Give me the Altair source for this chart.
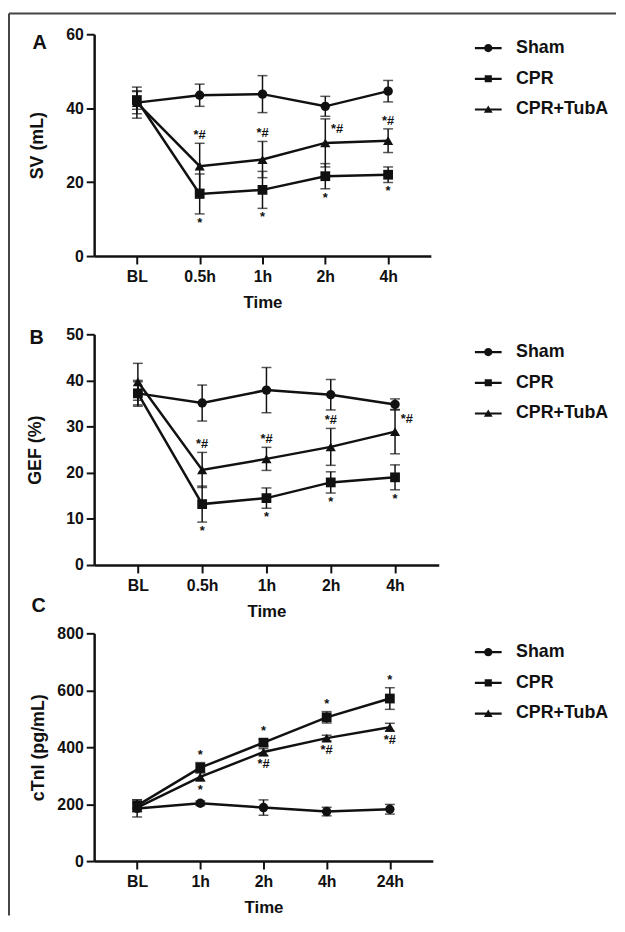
import altair as alt
import pandas as pd

SERIES = ["Sham", "CPR", "CPR+TubA"]
TIMES_AB = ["BL", "0.5h", "1h", "2h", "4h"]
TIMES_C = ["BL", "1h", "2h", "4h", "24h"]

# Panel A: SV (mL)
SV_SHAM = [41.5, 43.5, 43.8, 40.5, 44.6]
SV_SHAM_SD = [4.2, 3.0, 5.0, 2.7, 2.9]
SV_CPR = [42.2, 16.8, 17.9, 21.6, 22.0]
SV_CPR_SD = [2.5, 5.4, 5.0, 3.4, 2.1]
SV_TUBA = [41.5, 24.3, 26.1, 30.6, 31.2]
SV_TUBA_SD = [3.0, 6.2, 4.9, 6.5, 3.2]
SV_MARKS = [
    ("0.5h", "CPR+TubA", "above", "*#"), ("1h", "CPR+TubA", "above", "*#"),
    ("2h", "CPR+TubA", "right", "*#"), ("4h", "CPR+TubA", "above", "*#"),
    ("0.5h", "CPR", "below", "*"), ("1h", "CPR", "below", "*"),
    ("2h", "CPR", "below", "*"), ("4h", "CPR", "below", "*"),
]

# Panel B: GEF (%)
GEF_SHAM = [37.2, 35.1, 37.9, 36.9, 34.8]
GEF_SHAM_SD = [2.8, 3.9, 4.9, 3.3, 1.2]
GEF_CPR = [37.2, 13.2, 14.5, 17.9, 19.0]
GEF_CPR_SD = [2.5, 3.9, 2.2, 2.3, 2.7]
GEF_TUBA = [39.7, 20.6, 23.0, 25.6, 28.9]
GEF_TUBA_SD = [4.0, 3.8, 2.5, 4.0, 4.8]
GEF_MARKS = [
    ("0.5h", "CPR+TubA", "above", "*#"), ("1h", "CPR+TubA", "above", "*#"),
    ("2h", "CPR+TubA", "above", "*#"), ("4h", "CPR+TubA", "right", "*#"),
    ("0.5h", "CPR", "below", "*"), ("1h", "CPR", "below", "*"),
    ("2h", "CPR", "below", "*"), ("4h", "CPR", "below", "*"),
]

# Panel C: cTnI (pg/mL)
CTNI_SHAM = [185, 203, 188, 174, 182]
CTNI_SHAM_SD = [30, 8, 27, 15, 17]
CTNI_CPR = [195, 328, 416, 505, 571]
CTNI_CPR_SD = [20, 18, 12, 20, 38]
CTNI_TUBA = [188, 296, 383, 432, 470]
CTNI_TUBA_SD = [15, 15, 12, 10, 14]
CTNI_MARKS = [
    ("1h", "CPR", "above", "*"), ("2h", "CPR", "above", "*"),
    ("4h", "CPR", "above", "*"), ("24h", "CPR", "above", "*"),
    ("1h", "CPR+TubA", "below", "*"), ("2h", "CPR+TubA", "below", "*#"),
    ("4h", "CPR+TubA", "below", "*#"), ("24h", "CPR+TubA", "below", "*#"),
]

FONT = "Liberation Sans"
INK = "#111111"

# legend symbols: short line (filled bar) with the marker on it, all clockwise
BAR = "M-1.35,-0.11L1.35,-0.11L1.35,0.11L-1.35,0.11Z"
LEG_PATHS = [
    BAR + "M-0.42,0A0.42,0.42,0,1,1,0.42,0A0.42,0.42,0,1,1,-0.42,0Z",
    BAR + "M-0.36,-0.36L0.36,-0.36L0.36,0.36L-0.36,0.36Z",
    BAR + "M-0.44,0.34L0,-0.4L0.44,0.34Z",
]


def make_df(times, means, sds):
    rows = []
    for s, m, sd in zip(SERIES, means, sds):
        for t, v, e in zip(times, m, sd):
            rows.append({"time": t, "series": s, "value": v, "lo": v - e, "hi": v + e})
    return pd.DataFrame(rows)


def make_marks(df, marks):
    rows = []
    for t, s, kind, txt in marks:
        r = df[(df.time == t) & (df.series == s)].iloc[0]
        rows.append({"time": t, "series": s, "kind": kind, "txt": txt,
                     "ypos": r.hi if kind in ("above", "right") else r.lo})
    return pd.DataFrame(rows)


def panel(times, means, sds, marks, ymax, ystep, ytitle, letter, width, height, inset,
          title_x, letter_xy, legend_y, frame=False):
    df = make_df(times, means, sds)
    mdf = make_marks(df, marks)
    x = alt.X("time:N", sort=times, title="Time",
              scale=alt.Scale(type="point", padding=0.68),
              axis=alt.Axis(labelAngle=0, labelPadding=5, titlePadding=10,
                            titleFontSize=17))
    yscale = alt.Scale(domain=[0, ymax], nice=False, zero=True, range=[height, inset])
    y = alt.Y("value:Q", title=ytitle, scale=yscale,
              axis=alt.Axis(values=list(range(0, ymax + 1, ystep)), labelPadding=3,
                            titleX=title_x, titleBaseline="middle", titleFontSize=18))
    base = alt.Chart(df)
    lines = base.mark_line(color=INK, strokeWidth=2.5).encode(
        x=x, y=y, detail="series:N")
    rules = base.mark_rule(color=INK, strokeWidth=1.5).encode(
        x=x, y=alt.Y("lo:Q"), y2="hi:Q")
    cap_lo = base.mark_tick(color=INK, size=10, thickness=1.5).encode(x=x, y="lo:Q")
    cap_hi = base.mark_tick(color=INK, size=10, thickness=1.5).encode(x=x, y="hi:Q")
    pts = base.mark_point(filled=True, color=INK, opacity=1).encode(
        x=x, y=y,
        shape=alt.Shape("series:N", legend=None,
                        scale=alt.Scale(domain=SERIES, range=["circle", "square", "triangle-up"])),
        size=alt.Size("series:N", legend=None,
                      scale=alt.Scale(domain=SERIES, range=[90, 105, 80])))
    leg = base.transform_filter("datum.series == 'none'").mark_point(
        filled=True, color=INK).encode(
        x=x, y=y,
        shape=alt.Shape("series:N",
                        scale=alt.Scale(domain=SERIES, range=LEG_PATHS),
                        legend=alt.Legend(title=None, orient="none", legendX=388,
                                          legendY=legend_y, symbolSize=400,
                                          symbolStrokeWidth=0, symbolFillColor=INK,
                                          symbolOpacity=1,
                                          labelFontSize=18, labelFont=FONT,
                                          labelFontWeight="bold", labelColor=INK,
                                          labelOffset=18, rowPadding=12, padding=0)))
    mbase = alt.Chart(mdf)
    yt = alt.Y("ypos:Q")
    ann_above = mbase.transform_filter("datum.kind == 'above'").mark_text(
        font=FONT, fontWeight="bold", fontSize=13, color=INK, baseline="middle", dy=-8
    ).encode(x=x, y=yt, text="txt:N")
    ann_below = mbase.transform_filter("datum.kind == 'below'").mark_text(
        font=FONT, fontWeight="bold", fontSize=13, color=INK, baseline="middle", dy=9
    ).encode(x=x, y=yt, text="txt:N")
    ann_right = mbase.transform_filter("datum.kind == 'right'").mark_text(
        font=FONT, fontWeight="bold", fontSize=13, color=INK, baseline="middle",
        dx=12, dy=10).encode(x=x, y=yt, text="txt:N")
    lab = alt.Chart(pd.DataFrame({"t": [letter]})).mark_text(
        font=FONT, fontWeight="bold", fontSize=20, color=INK, baseline="middle",
        align="center").encode(x=alt.value(letter_xy[0]), y=alt.value(letter_xy[1]),
                               text="t:N")
    layers = [lines, rules, cap_lo, cap_hi, pts, leg, ann_above, ann_below, ann_right, lab]
    if frame:
        fr = alt.Chart(pd.DataFrame({"f": [0]}))
        top = fr.mark_rule(color="#444444", strokeWidth=2).encode(
            x=alt.value(-86), x2=alt.value(527), y=alt.value(-21))
        left = fr.mark_rule(color="#444444", strokeWidth=2).encode(
            x=alt.value(-86), y=alt.value(-21), y2=alt.value(890))
        layers = [top, left] + layers
    return alt.layer(*layers).resolve_scale(shape="independent", size="independent").properties(
        width=width, height=height)


A = panel(TIMES_AB, [SV_SHAM, SV_CPR, SV_TUBA], [SV_SHAM_SD, SV_CPR_SD, SV_TUBA_SD],
          SV_MARKS, 60, 20, "SV (mL)", "A", 340, 224, 0, -57, (-55, 9), 4, frame=True)
B = panel(TIMES_AB, [GEF_SHAM, GEF_CPR, GEF_TUBA], [GEF_SHAM_SD, GEF_CPR_SD, GEF_TUBA_SD],
          GEF_MARKS, 50, 10, "GEF (%)", "B", 348, 243, 10, -59, (-58, 14), 18)
C = panel(TIMES_C, [CTNI_SHAM, CTNI_CPR, CTNI_TUBA], [CTNI_SHAM_SD, CTNI_CPR_SD, CTNI_TUBA_SD],
          CTNI_MARKS, 800, 200, "cTnI (pg/mL)", "C", 342, 230, 0, -56, (-56, -28), 9)

chart = alt.vconcat(A, B, C, spacing=69, bounds="flush").properties(
    padding=0
).configure_view(
    stroke=None
).configure_axis(
    grid=False, domainColor=INK, domainWidth=2.5, tickColor=INK, tickWidth=2,
    tickSize=8, labelFont=FONT, labelFontWeight="bold", labelFontSize=16,
    labelColor=INK, titleFont=FONT, titleFontWeight="bold", titleColor=INK
).configure_text(font=FONT)

chart.save("out.html", embed_options={"renderer": "svg", "actions": False})
